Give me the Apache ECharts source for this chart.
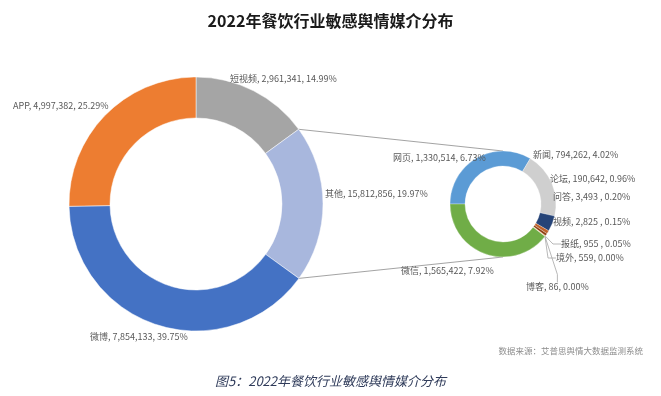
<!DOCTYPE html>
<html><head><meta charset="utf-8">
<script src="https://cdn.jsdelivr.net/npm/echarts@6/dist/echarts.min.js"></script>
<style>html,body{margin:0;padding:0;background:#fff}#c{width:661px;height:396px}</style>
</head><body><div id="c"></div>
<script>
// ---- data ----
var leftNames = ['短视频', '其他', '微博', 'APP'];
var leftCounts = [2961341, 15812856, 7854133, 4997382];
var leftPct = [14.99, 19.97, 39.75, 25.29];
var rightNames = ['网页', '新闻', '论坛', '问答', '视频', '报纸', '境外', '博客', '微信'];
var rightCounts = [1330514, 794262, 190642, 3493, 2825, 955, 559, 86, 1565422];
var rightPct = [6.73, 4.02, 0.96, 0.20, 0.15, 0.05, 0.00, 0.00, 7.92];
var spacedCount = ['问答', '视频', '报纸'];
var titleText = '2022年餐饮行业敏感舆情媒介分布';
var captionText = '图5：2022年餐饮行业敏感舆情媒介分布';
var sourceText = '数据来源：艾普思舆情大数据监测系统';

// ---- styles / layout ----
var leftColors = ['#A5A5A5', '#A8B7DD', '#4472C4', '#ED7D31'];
var rightColors = ['#5B9BD5', '#CFCFCF', '#264478', '#C0622A', '#8E3F12', '#D98A2B', '#E5C23A', '#C9B23A', '#70AD47'];
var LC = [196, 204], LR = [86, 127];
var RC = [503, 204], RR = [38, 53];
var leftLabelPos = {'短视频': [230, 79], '其他': [325, 194], '微博': [90, 337], 'APP': [13, 106]};
var rightLabelPos = {'网页': [393, 158], '新闻': [533, 155], '论坛': [550, 179], '问答': [553, 197],
  '视频': [553, 222], '报纸': [561, 244], '境外': [556, 258], '博客': [526, 287], '微信': [401, 271]};
var lineNames = ['论坛', '问答', '视频', '报纸', '境外', '博客'];

function fmt(n) { return n.toLocaleString('en-US'); }
function lab(name, count, pct) {
  return name + ', ' + fmt(count) + (spacedCount.indexOf(name) >= 0 ? ' ' : '') + ', ' + pct.toFixed(2) + '%';
}

var leftData = leftNames.map(function (n, i) {
  return {name: n, value: leftPct[i], itemStyle: {color: leftColors[i]},
    label: {formatter: lab(n, leftCounts[i], leftPct[i])}};
});
var rightData = rightNames.map(function (n, i) {
  return {name: n, value: rightPct[i], itemStyle: {color: rightColors[i]},
    label: {formatter: lab(n, rightCounts[i], rightPct[i])},
    labelLine: {show: lineNames.indexOf(n) >= 0}};
});

// connector lines computed from the pie geometry (other slice boundaries -> secondary donut top/bottom)
var leftTotal = leftPct.reduce(function (a, b) { return a + b; }, 0);
var a1 = leftPct[0] / leftTotal * 2 * Math.PI;
var a2 = (leftPct[0] + leftPct[1]) / leftTotal * 2 * Math.PI;
function pt(c, r, a) { return [c[0] + r * Math.sin(a), c[1] - r * Math.cos(a)]; }
var p1 = pt(LC, LR[1], a1), p2 = pt(LC, LR[1], a2);
var q1 = [RC[0], RC[1] - RR[1]], q2 = [RC[0], RC[1] + RR[1]];

var labelFont = {fontFamily: '"Noto Sans CJK SC", "Noto Sans", sans-serif', fontSize: 9, color: '#595959',
  overflow: 'none', width: null};

function layoutFor(posMap, names) {
  return function (params) {
    var p = posMap[names[params.dataIndex]];
    return {x: p[0], y: p[1], align: 'left', verticalAlign: 'middle', hideOverlap: false, moveOverlap: false};
  };
}

var chart = echarts.init(document.getElementById('c'), null, {renderer: 'canvas'});
chart.setOption({
  backgroundColor: '#fff',
  animation: false,
  title: {
    text: titleText, left: 'center', top: 8,
    textStyle: {fontFamily: '"Noto Sans CJK SC", sans-serif', fontSize: 16, fontWeight: 'bold', color: '#1a1a1a'}
  },
  graphic: [
    {type: 'line', shape: {x1: p1[0], y1: p1[1], x2: q1[0], y2: q1[1]}, style: {stroke: '#8C8C8C', lineWidth: 0.8}, z: 1},
    {type: 'line', shape: {x1: p2[0], y1: p2[1], x2: q2[0], y2: q2[1]}, style: {stroke: '#8C8C8C', lineWidth: 0.8}, z: 1},
    {type: 'text', right: 18, top: 347, style: {text: sourceText, fontSize: 8.5, fill: '#8C8C8C', fontFamily: '"Noto Sans CJK SC", sans-serif'}},
    {type: 'text', left: 'center', top: 375, style: {text: captionText, fontSize: 13, fontStyle: 'italic', fill: '#2F3B5A', fontFamily: '"Noto Sans CJK SC", sans-serif'}}
  ],
  series: [
    {
      type: 'pie', center: LC, radius: LR, startAngle: 90, clockwise: true,
      data: leftData, z: 2,
      itemStyle: {borderColor: '#fff', borderWidth: 0.5},
      label: Object.assign({show: true, position: 'outside', edgeDistance: 0, bleedMargin: 0}, labelFont),
      labelLine: {show: false},
      labelLayout: layoutFor(leftLabelPos, leftNames),
      emphasis: {disabled: true}
    },
    {
      type: 'pie', center: RC, radius: RR, startAngle: 180, clockwise: true,
      data: rightData, z: 2, minShowLabelAngle: 0, stillShowZeroSum: true,
      itemStyle: {borderColor: '#fff', borderWidth: 0.3},
      label: Object.assign({show: true, position: 'outside', edgeDistance: 0, bleedMargin: 0}, labelFont),
      labelLine: {show: true, length: 8, length2: 8, lineStyle: {color: '#A6A6A6', width: 0.8}},
      labelLayout: layoutFor(rightLabelPos, rightNames),
      emphasis: {disabled: true}
    }
  ]
});
</script></body></html>
